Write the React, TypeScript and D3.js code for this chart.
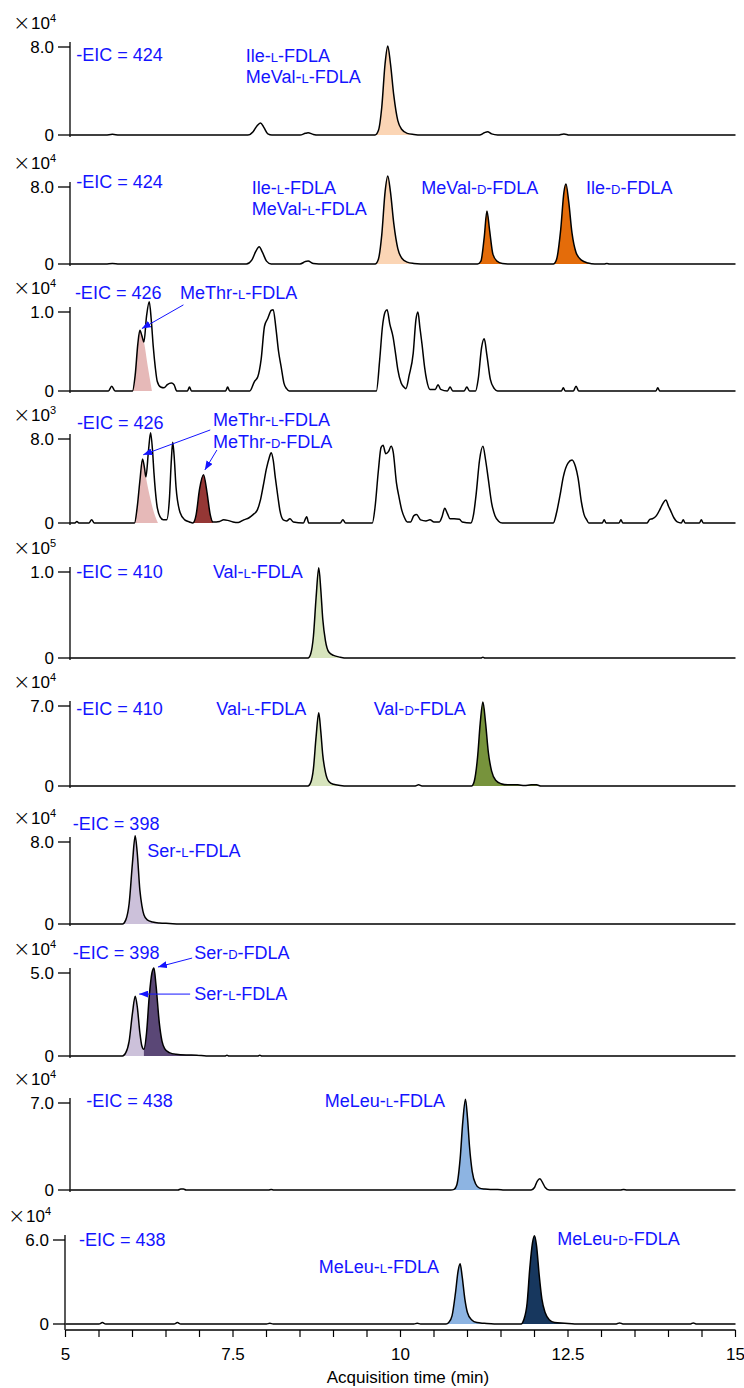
import React from "react";
import * as d3 from "d3";

type Pt = [number, number];

// shared time axis (min)
const timeDomain: [number, number] = [5, 15];
const timeTicks = d3.range(5, 15.01, 0.5);
const timeLabels = [5, 7.5, 10, 12.5, 15];

// EIC traces: [time, intensity in the panel's own unit]
const eic424a: Pt[] = [[5.07,0],[5.6,0],[5.7,0.06],[5.8,0],[7.72,0],[7.8,0.3],[7.86,0.85],[7.91,1.1],[7.96,0.7],[8.02,0.1],[8.08,0],[8.5,0],[8.58,0.15],[8.62,0.2],[8.7,0.05],[8.78,0],[9.62,0],[9.67,0.4],[9.72,2.5],[9.77,6.5],[9.81,8.1],[9.85,6.5],[9.9,3.6],[9.96,1.3],[10.02,0.5],[10.1,0.15],[10.2,0.05],[10.3,0],[11.18,0],[11.25,0.2],[11.3,0.3],[11.36,0.1],[11.45,0],[12.35,0],[12.44,0.1],[12.52,0],[15,0]];
const eic424b: Pt[] = [[5.07,0],[5.6,0],[5.7,0.05],[5.8,0],[7.7,0],[7.78,0.4],[7.84,1.3],[7.89,1.8],[7.94,1.2],[8.0,0.3],[8.07,0],[8.5,0],[8.58,0.25],[8.62,0.3],[8.7,0.05],[8.78,0],[9.62,0],[9.67,0.5],[9.72,3],[9.77,7.5],[9.81,9.15],[9.85,7.5],[9.9,4.2],[9.96,1.6],[10.02,0.6],[10.1,0.2],[10.2,0.05],[10.3,0],[11.15,0],[11.2,0.3],[11.25,2.8],[11.29,5.5],[11.33,3.5],[11.38,1.0],[11.44,0.3],[11.52,0.05],[11.6,0],[12.28,0],[12.33,0.5],[12.39,3.5],[12.44,7.5],[12.47,8.3],[12.51,6.5],[12.56,3.2],[12.62,1.2],[12.7,0.4],[12.8,0.1],[12.9,0],[13.04,0],[13.08,0.06],[13.12,0],[15,0]];
const eic426a: Pt[] = [[5.07,0],[5.64,0],[5.69,0.06],[5.74,0],[6.0,0],[6.04,0.2],[6.08,0.6],[6.11,0.77],[6.14,0.7],[6.17,0.62],[6.21,0.95],[6.25,1.13],[6.28,0.9],[6.31,0.56],[6.34,0.3],[6.37,0.12],[6.42,0.05],[6.47,0.04],[6.52,0.08],[6.58,0.1],[6.62,0.08],[6.66,0],[6.82,0],[6.85,0.05],[6.88,0],[7.39,0],[7.42,0.05],[7.45,0],[7.75,0],[7.82,0.12],[7.87,0.18],[7.92,0.4],[7.97,0.82],[8.02,0.92],[8.07,1.02],[8.1,1.03],[8.14,0.8],[8.18,0.5],[8.22,0.3],[8.26,0.1],[8.3,0.03],[8.34,0],[9.64,0],[9.69,0.4],[9.73,0.81],[9.77,1.0],[9.8,1.03],[9.84,0.85],[9.89,0.68],[9.93,0.45],[9.96,0.27],[10.01,0.1],[10.05,0.05],[10.08,0.03],[10.13,0.2],[10.19,0.48],[10.23,0.9],[10.26,1.0],[10.29,0.8],[10.32,0.6],[10.36,0.3],[10.39,0.14],[10.44,0.02],[10.52,0.02],[10.56,0.08],[10.6,0.02],[10.7,0],[10.74,0.05],[10.78,0],[10.95,0],[10.99,0.05],[11.03,0],[11.12,0],[11.16,0.15],[11.21,0.55],[11.25,0.66],[11.29,0.45],[11.34,0.15],[11.4,0.03],[11.45,0],[12.4,0],[12.43,0.04],[12.46,0],[12.58,0],[12.62,0.06],[12.66,0],[13.81,0],[13.84,0.04],[13.87,0],[15,0]];
const eic426b: Pt[] = [[5.07,0],[5.14,0],[5.17,0.15],[5.2,0],[5.35,0],[5.39,0.3],[5.43,0],[6.03,0],[6.07,1.5],[6.11,4.0],[6.15,6.1],[6.18,5.2],[6.2,4.4],[6.24,7.0],[6.27,8.6],[6.3,6.8],[6.32,4.8],[6.36,1.9],[6.41,0.6],[6.46,0.3],[6.51,0.3],[6.55,2.2],[6.58,6.0],[6.6,7.7],[6.62,6.5],[6.65,3.4],[6.71,1.0],[6.78,0.3],[6.85,0.1],[6.9,0],[6.95,0.8],[7.0,3.2],[7.06,4.6],[7.11,3.0],[7.16,0.8],[7.2,0.1],[7.3,0.15],[7.36,0.3],[7.42,0.25],[7.5,0.1],[7.58,0.05],[7.66,0.3],[7.74,0.5],[7.8,0.8],[7.86,1.2],[7.91,2.2],[7.95,3.5],[8.0,5.2],[8.04,6.2],[8.07,6.7],[8.1,6.0],[8.13,4.4],[8.17,2.5],[8.2,1.2],[8.25,0.3],[8.3,0.2],[8.35,0.4],[8.4,0.1],[8.55,0],[8.6,0.6],[8.63,0],[9.1,0],[9.14,0.3],[9.18,0],[9.58,0],[9.62,1.5],[9.67,5.0],[9.71,7.2],[9.74,7.4],[9.78,6.6],[9.82,6.8],[9.86,7.3],[9.89,6.8],[9.94,3.8],[9.98,2.4],[10.02,1.2],[10.06,0.5],[10.1,0.1],[10.15,0.1],[10.2,0.7],[10.24,0.8],[10.3,0.3],[10.38,0.2],[10.44,0.3],[10.5,0.1],[10.58,0.1],[10.62,0.6],[10.66,1.4],[10.7,0.9],[10.74,0.4],[10.8,0.4],[10.88,0.35],[10.92,0.1],[11.05,0],[11.09,0.8],[11.13,2.8],[11.18,6.0],[11.23,7.3],[11.27,6.0],[11.31,4.2],[11.36,1.9],[11.41,0.7],[11.46,0.2],[11.52,0],[12.28,0],[12.33,1.0],[12.38,2.6],[12.43,4.4],[12.5,5.7],[12.56,6.0],[12.61,5.4],[12.65,4.3],[12.7,2.0],[12.74,0.8],[12.78,0.3],[12.81,0],[13.01,0],[13.04,0.3],[13.07,0],[13.26,0],[13.29,0.3],[13.32,0],[13.68,0],[13.72,0.35],[13.76,0.4],[13.82,0.7],[13.88,1.4],[13.92,1.9],[13.96,2.2],[14.0,1.6],[14.03,1.2],[14.08,0.5],[14.13,0.1],[14.19,0],[14.22,0.3],[14.25,0],[14.46,0],[14.49,0.3],[14.52,0],[15,0]];
const eic410a: Pt[] = [[5.07,0],[8.62,0],[8.66,0.05],[8.7,0.25],[8.74,0.7],[8.78,1.05],[8.81,0.8],[8.84,0.45],[8.88,0.2],[8.93,0.07],[9.0,0.03],[9.1,0.01],[9.2,0],[11.2,0],[11.23,0.01],[11.26,0],[15,0]];
const eic410b: Pt[] = [[5.07,0],[8.62,0],[8.66,0.3],[8.7,1.5],[8.74,4.3],[8.78,6.4],[8.81,4.8],[8.84,2.7],[8.88,1.2],[8.93,0.4],[9.0,0.15],[9.1,0.05],[9.2,0],[10.22,0],[10.27,0.1],[10.32,0],[11.06,0],[11.1,0.4],[11.15,2.5],[11.19,5.5],[11.23,7.35],[11.27,5.5],[11.31,3.0],[11.36,1.3],[11.42,0.5],[11.5,0.2],[11.6,0.1],[11.75,0.1],[11.85,0.05],[11.95,0.1],[12.03,0.1],[12.1,0],[15,0]];
const eic398a: Pt[] = [[5.07,0],[5.85,0],[5.9,0.4],[5.95,2.0],[6.0,6.0],[6.04,8.6],[6.07,7.0],[6.11,3.3],[6.14,1.8],[6.17,0.9],[6.22,0.4],[6.3,0.2],[6.4,0.1],[6.55,0.05],[6.7,0],[15,0]];
const eic398b: Pt[] = [[5.07,0],[5.85,0],[5.9,0.2],[5.95,0.9],[6.0,2.6],[6.04,3.6],[6.07,3.0],[6.11,1.4],[6.14,0.6],[6.17,0.4],[6.21,1.4],[6.25,3.6],[6.29,5.0],[6.32,5.3],[6.35,4.3],[6.4,2.0],[6.44,0.9],[6.48,0.45],[6.55,0.2],[6.65,0.1],[6.8,0.06],[6.96,0.05],[7.1,0],[7.38,0],[7.41,0.05],[7.44,0],[7.87,0],[7.9,0.05],[7.93,0],[15,0]];
const eic438a: Pt[] = [[5.07,0],[6.68,0],[6.72,0.08],[6.76,0.08],[6.8,0],[8.03,0],[8.07,0.05],[8.11,0],[10.75,0],[10.8,0.05],[10.84,0.4],[10.89,2.5],[10.93,5.5],[10.97,7.3],[11.0,5.8],[11.03,3.5],[11.07,1.5],[11.12,0.5],[11.18,0.15],[11.26,0.08],[11.34,0.05],[11.45,0.05],[11.55,0],[11.95,0],[12.0,0.2],[12.04,0.7],[12.08,0.9],[12.12,0.6],[12.16,0.2],[12.22,0],[13.28,0],[13.33,0.05],[13.38,0],[15,0]];
const eic438b: Pt[] = [[5.0,0],[5.5,0],[5.55,0.1],[5.6,0],[6.62,0],[6.67,0.1],[6.72,0],[8.0,0],[8.05,0.05],[8.1,0],[10.2,0],[10.25,0.05],[10.3,0],[10.68,0],[10.72,0.1],[10.77,0.6],[10.82,2.2],[10.86,3.8],[10.89,4.3],[10.92,3.4],[10.96,1.8],[11.0,0.8],[11.06,0.3],[11.14,0.1],[11.25,0.05],[11.4,0],[11.8,0],[11.84,0.3],[11.89,1.5],[11.93,4.0],[11.97,5.8],[12.0,6.3],[12.03,5.6],[12.07,3.5],[12.11,1.8],[12.16,0.8],[12.22,0.3],[12.3,0.1],[12.45,0.05],[12.6,0],[13.22,0],[13.27,0.08],[13.32,0],[14.33,0],[14.37,0.08],[14.41,0],[15,0]];

// shaded peaks that do not follow the outer trace
const meThrL_a: Pt[] = [[6.0,0],[6.04,0.2],[6.08,0.6],[6.11,0.77],[6.14,0.7],[6.17,0.62],[6.23,0.3],[6.29,0]];
const meThrL_b: Pt[] = [[6.03,0],[6.07,1.5],[6.11,4.0],[6.15,6.1],[6.18,5.2],[6.2,4.4],[6.26,2.5],[6.32,1.0],[6.38,0]];
const serL_b: Pt[] = [[5.85,0],[5.9,0.2],[5.95,0.9],[6.0,2.6],[6.04,3.6],[6.07,3.0],[6.11,1.4],[6.14,0.6],[6.17,0.4],[6.19,0]];

const BLUE = "#1414ff";
const FONT = "'Liberation Sans', Arial, sans-serif";

type Fill = { color: string; range?: [number, number]; pts?: Pt[] };
type Label = { t: number; v: number; text: string };
type Arrow = { from: Pt; to: Pt };
type Panel = {
  trace: Pt[]; max: number; tick: string; exp: string; eic: string;
  y0: number; yTop: number; axisX: number; eicAt: Pt;
  fills: Fill[]; labels: Label[]; arrows: Arrow[];
};

const panels: Panel[] = [
  { trace: eic424a, max: 8, tick: "8.0", exp: "4", eic: "424", y0: 135, yTop: 47, axisX: 70, eicAt: [5.16, 7.3],
    fills: [{ color: "#fbd5b5", range: [9.6, 10.3] }],
    labels: [{ t: 7.69, v: 7.2, text: "Ile-L-FDLA" }, { t: 7.69, v: 5.3, text: "MeVal-L-FDLA" }], arrows: [] },
  { trace: eic424b, max: 8, tick: "8.0", exp: "4", eic: "424", y0: 264, yTop: 187, axisX: 70, eicAt: [5.16, 8.5],
    fills: [{ color: "#fbd5b5", range: [9.6, 10.3] }, { color: "#e46c0a", range: [11.15, 11.6] }, { color: "#e46c0a", range: [12.28, 12.9] }],
    labels: [{ t: 7.78, v: 7.9, text: "Ile-L-FDLA" }, { t: 7.78, v: 5.7, text: "MeVal-L-FDLA" }, { t: 10.31, v: 7.9, text: "MeVal-D-FDLA" }, { t: 12.77, v: 7.9, text: "Ile-D-FDLA" }], arrows: [] },
  { trace: eic426a, max: 1, tick: "1.0", exp: "4", eic: "426", y0: 391, yTop: 312, axisX: 70, eicAt: [5.14, 1.24],
    fills: [{ color: "#e6b9b8", pts: meThrL_a }],
    labels: [{ t: 6.71, v: 1.24, text: "MeThr-L-FDLA" }],
    arrows: [{ from: [6.76, 1.09], to: [6.14, 0.79] }] },
  { trace: eic426b, max: 8, tick: "8.0", exp: "3", eic: "426", y0: 523, yTop: 439, axisX: 70, eicAt: [5.17, 9.6],
    fills: [{ color: "#e6b9b8", pts: meThrL_b }, { color: "#953735", range: [6.9, 7.2] }],
    labels: [{ t: 7.2, v: 9.8, text: "MeThr-L-FDLA" }, { t: 7.2, v: 7.7, text: "MeThr-D-FDLA" }],
    arrows: [{ from: [7.16, 8.86], to: [6.16, 6.5] }, { from: [7.26, 6.95], to: [7.08, 5.05] }] },
  { trace: eic410a, max: 1, tick: "1.0", exp: "5", eic: "410", y0: 658, yTop: 572, axisX: 70, eicAt: [5.16, 1.0],
    fills: [{ color: "#d7e4bd", range: [8.6, 9.2] }],
    labels: [{ t: 7.2, v: 1.0, text: "Val-L-FDLA" }], arrows: [] },
  { trace: eic410b, max: 7, tick: "7.0", exp: "4", eic: "410", y0: 786, yTop: 706, axisX: 70, eicAt: [5.16, 6.74],
    fills: [{ color: "#d7e4bd", range: [8.6, 9.2] }, { color: "#77933c", range: [11.05, 12.1] }],
    labels: [{ t: 7.25, v: 6.74, text: "Val-L-FDLA" }, { t: 9.6, v: 6.74, text: "Val-D-FDLA" }], arrows: [] },
  { trace: eic398a, max: 8, tick: "8.0", exp: "4", eic: "398", y0: 924, yTop: 842, axisX: 70, eicAt: [5.11, 9.76],
    fills: [{ color: "#ccc1da", range: [5.85, 6.7] }],
    labels: [{ t: 6.22, v: 7.2, text: "Ser-L-FDLA" }], arrows: [] },
  { trace: eic398b, max: 5, tick: "5.0", exp: "4", eic: "398", y0: 1056, yTop: 973, axisX: 70, eicAt: [5.11, 6.2],
    fills: [{ color: "#ccc1da", pts: serL_b }, { color: "#5a4776", range: [6.17, 7.1] }],
    labels: [{ t: 6.92, v: 6.2, text: "Ser-D-FDLA" }, { t: 6.92, v: 3.73, text: "Ser-L-FDLA" }],
    arrows: [{ from: [6.89, 5.9], to: [6.38, 5.36] }, { from: [6.86, 3.73], to: [6.1, 3.73] }] },
  { trace: eic438a, max: 7, tick: "7.0", exp: "4", eic: "438", y0: 1190, yTop: 1103, axisX: 70, eicAt: [5.31, 7.17],
    fills: [{ color: "#8db4e2", range: [10.75, 11.55] }],
    labels: [{ t: 8.87, v: 7.17, text: "MeLeu-L-FDLA" }], arrows: [] },
  { trace: eic438b, max: 6, tick: "6.0", exp: "4", eic: "438", y0: 1324, yTop: 1240, axisX: 65, eicAt: [5.2, 6.0],
    fills: [{ color: "#8db4e2", range: [10.68, 11.4] }, { color: "#17375e", range: [11.8, 12.6] }],
    labels: [{ t: 12.34, v: 6.07, text: "MeLeu-D-FDLA" }, { t: 8.78, v: 4.07, text: "MeLeu-L-FDLA" }], arrows: [] },
];

const x = d3.scaleLinear().domain(timeDomain).range([65.5, 735.5]);
const AXIS_Y = 1330;

function Name({ px, py, text }: { px: number; py: number; text: string }) {
  const m = text.match(/^(.*?-)([LD])(-.*)$/);
  return (
    <text x={px} y={py} dy="0.35em" fill={BLUE} fontSize={18} fontFamily={FONT}>
      {m ? (<>{m[1]}<tspan fontSize={13}>{m[2]}</tspan>{m[3]}</>) : text}
    </text>
  );
}

function PanelView({ p }: { p: Panel }) {
  const y = d3.scaleLinear().domain([0, p.max]).range([p.y0, p.yTop]);
  const line = d3.line<Pt>().x(d => x(d[0])).y(d => y(d[1])).curve(d3.curveMonotoneX);
  const area = d3.area<Pt>().x(d => x(d[0])).y0(p.y0).y1(d => y(d[1])).curve(d3.curveMonotoneX);
  const bottom = p === panels[panels.length - 1] ? AXIS_Y : p.y0 + 2;
  return (
    <g>
      {p.fills.map((f, i) => {
        const pts = f.pts ?? p.trace.filter(d => d[0] >= f.range![0] && d[0] <= f.range![1]);
        return <path key={i} d={area(pts) ?? ""} fill={f.color} stroke="none" />;
      })}
      <path d={line(p.trace) ?? ""} fill="none" stroke="#000" strokeWidth={1.5} strokeLinejoin="round" />
      <line x1={p.axisX} x2={p.axisX} y1={p.yTop - 5} y2={bottom} stroke="#000" strokeWidth={1.3} />
      {[0, p.max].map((v, i) => (
        <g key={i}>
          <line x1={p.axisX - 12} x2={p.axisX} y1={y(v)} y2={y(v)} stroke="#000" strokeWidth={1.3} />
          <text x={p.axisX - 16} y={y(v)} dy="0.35em" textAnchor="end" fontSize={17} fontFamily={FONT}>
            {i === 0 ? "0" : p.tick}
          </text>
        </g>
      ))}
      <text x={p.axisX - 57} y={p.yTop - 24} dy="0.35em" fontSize={21} fontWeight={300} fontFamily="'DejaVu Sans', sans-serif">×</text>
      <text x={p.axisX - 39} y={p.yTop - 24} dy="0.35em" fontSize={17} fontFamily={FONT}>
        10<tspan fontSize={11} dy={-7}>{p.exp}</tspan>
      </text>
      <Name px={x(p.eicAt[0])} py={y(p.eicAt[1])} text={`-EIC = ${p.eic}`} />
      {p.labels.map((l, i) => <Name key={i} px={x(l.t)} py={y(l.v)} text={l.text} />)}
      {p.arrows.map((a, i) => (
        <line key={i} x1={x(a.from[0])} y1={y(a.from[1])} x2={x(a.to[0])} y2={y(a.to[1])}
          stroke={BLUE} strokeWidth={1} markerEnd="url(#arrowhead)" />
      ))}
    </g>
  );
}

export default function App() {
  return (
    <svg width={744} height={1388} style={{ position: "absolute", left: 0, top: 0, background: "#fff" }}>
      <defs>
        <marker id="arrowhead" markerUnits="userSpaceOnUse" markerWidth={9} markerHeight={7} refX={9} refY={3.5} orient="auto">
          <path d="M0,0 L9,3.5 L0,7 z" fill={BLUE} />
        </marker>
      </defs>
      <rect width={744} height={1388} fill="#fff" />
      {panels.map((p, i) => <PanelView key={i} p={p} />)}
      <line x1={x(5)} x2={x(15)} y1={AXIS_Y} y2={AXIS_Y} stroke="#000" strokeWidth={1.3} />
      {timeTicks.map(t => (
        <line key={t} x1={x(t)} x2={x(t)} y1={AXIS_Y} y2={AXIS_Y + 7} stroke="#000" strokeWidth={1.2} />
      ))}
      {timeLabels.map(t => (
        <text key={t} x={x(t)} y={AXIS_Y + 24} dy="0.35em" textAnchor="middle" fontSize={17} fontFamily={FONT}>{t}</text>
      ))}
      <text x={408} y={1377} dy="0.35em" textAnchor="middle" fontSize={17} fontFamily={FONT}>Acquisition time (min)</text>
    </svg>
  );
}
